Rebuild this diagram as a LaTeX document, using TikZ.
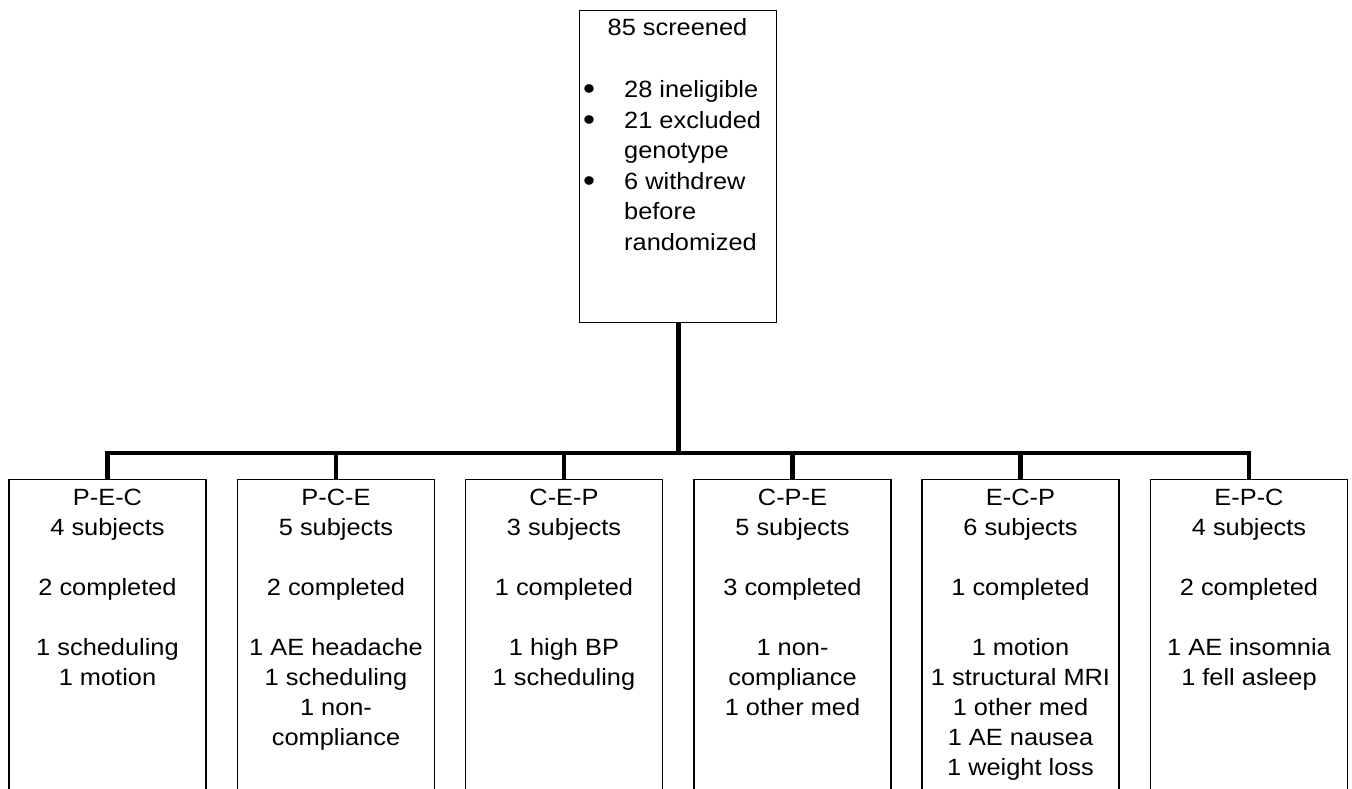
\documentclass[tikz,border=0pt]{standalone}
\usepackage{fontspec}
\setmainfont{Liberation Sans}[FakeStretch=1.08]
\newcommand{\blt}{\makebox[41pt][l]{\raisebox{-2.2pt}{\scalebox{1.35}{•}}}}
\begin{document}
\begin{tikzpicture}[x=1pt,y=-1pt,
  box/.style={draw=black, line width=1.2pt, minimum width=197pt, inner sep=0pt},
  txt/.style={anchor=north, inner sep=0pt, align=center, font=\fontsize{23.5}{30}\selectfont},
  conn/.style={draw=black, line width=4.8pt}]
\clip (0,0) rectangle (1352,789);
\fill[white] (0,0) rectangle (1352,789);
% top box
\node[box, anchor=north west, minimum height=312pt] (top) at (579,10) {};
\node[txt] (toptitle) at (677.5,14) {\strut 85 screened};
\node[anchor=north west, inner sep=0pt, font=\fontsize{23.5}{30.5}\selectfont] (toplist) at (583,76)
 {\begin{tabular}{@{}l@{}l@{}}
  \blt & 28 ineligible\\
  \blt & 21 excluded\\
   & genotype\\
  \blt & 6 withdrew\\
   & before\\
   & randomized
 \end{tabular}};
% bottom boxes
\foreach \n/\cx in {1/107.5,2/336,3/564,4/792.5,5/1020.5,6/1249}{
  \node[box, anchor=north, minimum height=340pt] (b\n) at (\cx,479) {};
}
\node[txt] (t1) at (b1.north |- 0,484) {\strut P-E-C\\4 subjects\\ \\2 completed\\ \\1 scheduling\\1 motion};
\node[txt] (t2) at (b2.north |- 0,484) {\strut P-C-E\\5 subjects\\ \\2 completed\\ \\1 AE headache\\1 scheduling\\1 non-\\compliance};
\node[txt] (t3) at (b3.north |- 0,484) {\strut C-E-P\\3 subjects\\ \\1 completed\\ \\1 high BP\\1 scheduling};
\node[txt] (t4) at (b4.north |- 0,484) {\strut C-P-E\\5 subjects\\ \\3 completed\\ \\1 non-\\compliance\\1 other med};
\node[txt] (t5) at (b5.north |- 0,484) {\strut E-C-P\\6 subjects\\ \\1 completed\\ \\1 motion\\1 structural MRI\\1 other med\\1 AE nausea\\1 weight loss};
\node[txt] (t6) at (b6.north |- 0,484) {\strut E-P-C\\4 subjects\\ \\2 completed\\ \\1 AE insomnia\\1 fell asleep};
% connectors
\coordinate (bus) at (top.south |- 0,453);
\draw[conn] (top.south) -- (bus);
\foreach \n in {1,...,6}{
  \draw[conn] (bus) -| (b\n.north);
}
\end{tikzpicture}
\end{document}
